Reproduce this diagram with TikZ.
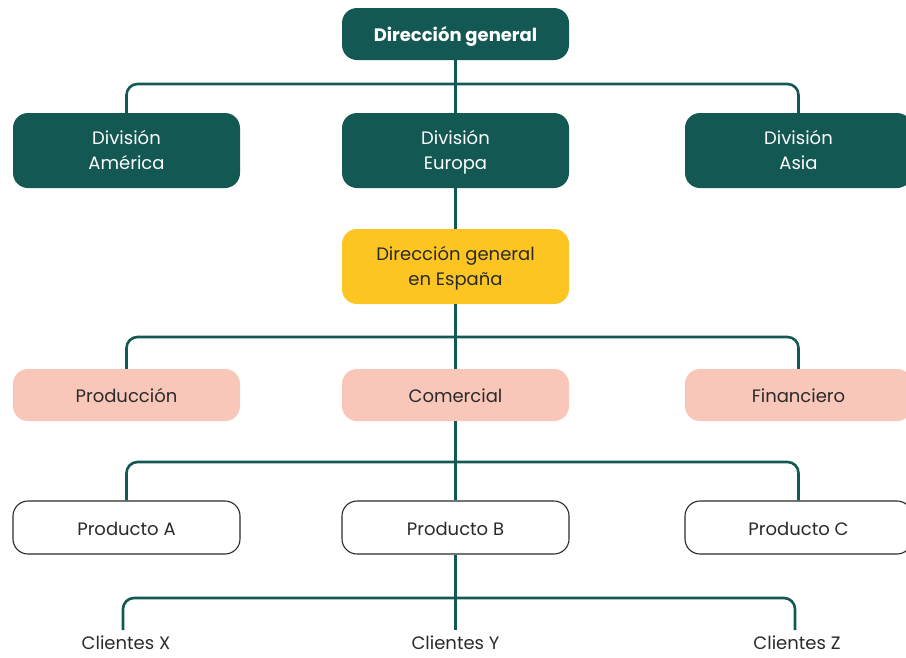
\documentclass[tikz,border=0pt]{standalone}
\usepackage{fontspec}
\setmainfont{Poppins}
\definecolor{teal}{HTML}{135852}
\definecolor{gold}{HTML}{FCC522}
\definecolor{blush}{HTML}{F8C7B9}
\definecolor{ink}{HTML}{2A2A2A}
\newcommand{\labelfont}{\fontsize{18}{25}\selectfont}
\tikzset{
  box/.style={rounded corners=15pt, minimum width=227pt, align=center, inner sep=0pt, font=\labelfont},
  oneline/.style={text height=17pt, text depth=1.4pt},
  twoline/.style={text height=40pt, text depth=1.4pt},
  darkbox/.style={box, fill=teal, text=white},
  goldbox/.style={box, fill=gold, text=ink},
  pinkbox/.style={box, fill=blush, text=ink},
  linebox/.style={box, draw=ink, line width=1.1pt, fill=white, text=ink},
  leaf/.style={text=ink, inner sep=0pt, font=\labelfont, text height=14pt, text depth=0.4pt},
  conn/.style={draw=teal, line width=2.6pt, rounded corners=11pt},
}
\begin{document}
\begin{tikzpicture}[x=1pt, y=-1pt]
\useasboundingbox (0,0) rectangle (906,657);
% points where the branch lines split
\coordinate (bus1) at (455.5,84);
\coordinate (bus2) at (455.5,337);
\coordinate (bus3) at (455.5,462);
\coordinate (bus4) at (455.5,598);
\coordinate (cxtop) at (123,630);
\coordinate (cytop) at (455.5,630);
\coordinate (cztop) at (795,630);

\node[darkbox, oneline, minimum height=52pt, font=\bfseries\labelfont] (top) at (455.5,34) {Dirección general};
\node[darkbox, twoline, minimum height=75pt] (amer) at (126.5,150.5) {División\\América};
\node[darkbox, twoline, minimum height=75pt] (euro) at (455.5,150.5) {División\\Europa};
\node[darkbox, twoline, minimum height=75pt] (asia) at (798.5,150.5) {División\\Asia};
\node[goldbox, twoline, minimum height=75pt] (esp) at (455.5,266.5) {Dirección general\\en España};
\node[pinkbox, oneline, minimum height=52pt] (prod) at (126.5,395) {Producción};
\node[pinkbox, oneline, minimum height=52pt] (com) at (455.5,395) {Comercial};
\node[pinkbox, oneline, minimum height=52pt] (fin) at (798.5,395) {Financiero};
\node[linebox, oneline, minimum height=53pt] (pa) at (126.5,527.5) {Producto A};
\node[linebox, oneline, minimum height=53pt] (pb) at (455.5,527.5) {Producto B};
\node[linebox, oneline, minimum height=53pt] (pc) at (798.5,527.5) {Producto C};
\node[leaf] (cx) at (126,643) {Clientes X};
\node[leaf] (cy) at (455.5,643) {Clientes Y};
\node[leaf] (cz) at (797,643) {Clientes Z};

% connectors
\draw[conn] (top.south) -- (euro.north);
\draw[conn] (amer.north) |- (bus1) -| (asia.north);
\draw[conn] (euro.south) -- (esp.north);
\draw[conn] (esp.south) -- (com.north);
\draw[conn] (prod.north) |- (bus2) -| (fin.north);
\draw[conn] (com.south) -- (pb.north);
\draw[conn] (pa.north) |- (bus3) -| (pc.north);
\draw[conn] (pb.south) -- (cytop);
\draw[conn] (cxtop) |- (bus4) -| (cztop);
\end{tikzpicture}
\end{document}
